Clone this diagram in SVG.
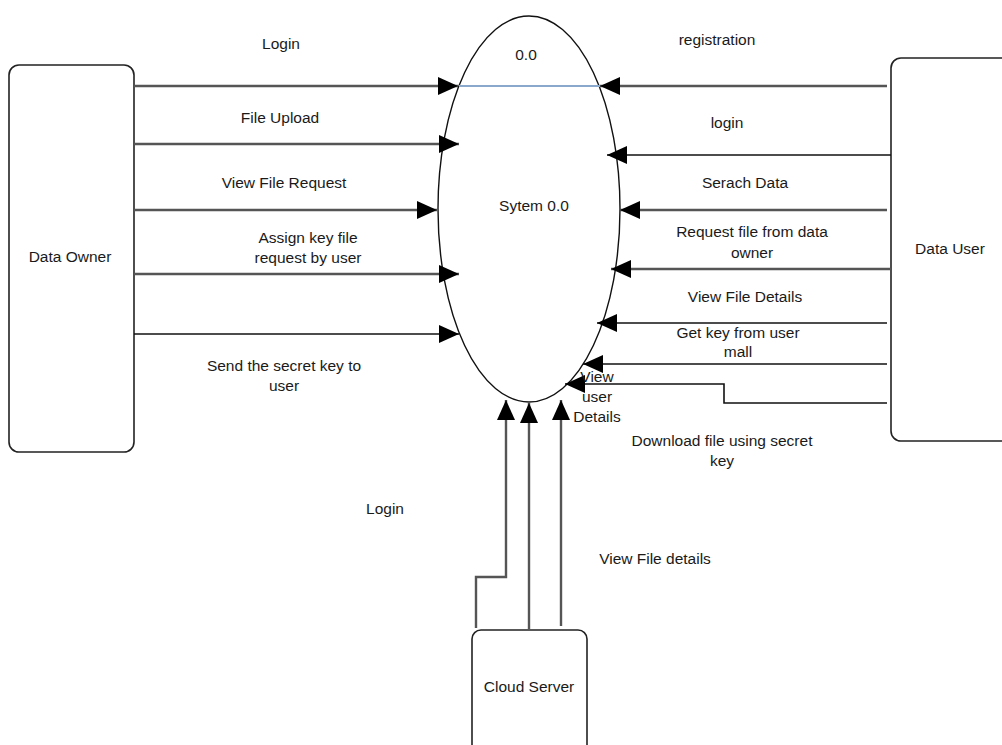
<svg xmlns="http://www.w3.org/2000/svg" width="1002" height="745" viewBox="0 0 1002 745">
<style>
text{font-family:"Liberation Sans",Arial,sans-serif;font-size:15.5px;fill:#1a1a1a;text-anchor:middle}
.box{fill:#fff;stroke:#222;stroke-width:1.6}
.g{fill:none;stroke:#555;stroke-width:2.4;marker-end:url(#ah)}
.k{fill:none;stroke:#111;stroke-width:1.6;marker-end:url(#ah)}
</style>
<defs>
<marker id="ah" markerUnits="userSpaceOnUse" markerWidth="20" markerHeight="18" refX="20" refY="9" orient="auto">
<path d="M0,0 L20,9 L0,18 z" fill="#000"/>
</marker>
</defs>
<rect width="1002" height="745" fill="#fff"/>
<g id="system">
<ellipse cx="529" cy="209" rx="91" ry="193" fill="#fff" stroke="#111" stroke-width="1.4"/>
<line x1="459" y1="86" x2="600" y2="86" stroke="#8aa8cc" stroke-width="2"/>
<text x="526" y="60">0.0</text>
<text x="534" y="211">Sytem 0.0</text>
</g>
<g id="data-owner">
<rect class="box" x="9" y="65" width="125" height="387" rx="10"/>
<text x="70" y="262">Data Owner</text>
</g>
<g id="data-user">
<rect class="box" x="891" y="58" width="130" height="383" rx="10"/>
<text x="950" y="254">Data User</text>
</g>
<g id="cloud-server">
<rect class="box" x="472" y="630" width="115" height="130" rx="9"/>
<text x="529" y="692">Cloud Server</text>
</g>
<g id="connectors">
<line class="g" x1="134" y1="86" x2="458" y2="86"/>
<line class="g" x1="134" y1="144" x2="459" y2="144"/>
<line class="g" x1="134" y1="210" x2="437" y2="210"/>
<line class="g" x1="134" y1="274" x2="459" y2="274"/>
<line class="k" x1="134" y1="334" x2="459" y2="334"/>
<line class="g" x1="887" y1="86" x2="600" y2="86"/>
<line class="k" x1="891" y1="155" x2="607" y2="155"/>
<line class="g" x1="887" y1="210" x2="620" y2="210"/>
<line class="g" x1="891" y1="269" x2="611" y2="269"/>
<line class="k" x1="887" y1="323" x2="597" y2="323"/>
<line class="k" x1="887" y1="364" x2="583" y2="364"/>
<polyline class="k" points="887,403 724,403 724,384 565,384"/>
<polyline class="g" points="476,628 476,577 506,577 506,400"/>
<line class="g" x1="529" y1="629" x2="529" y2="403"/>
<line class="g" x1="561" y1="626" x2="561" y2="400"/>
</g>
<g id="labels">
<text x="281" y="49">Login</text>
<text x="280" y="123">File Upload</text>
<text x="284" y="188">View File Request</text>
<text x="308" y="243">Assign key file</text>
<text x="308" y="263">request by user</text>
<text x="284" y="371">Send the secret key to</text>
<text x="284" y="391">user</text>
<text x="717" y="45">registration</text>
<text x="727" y="128">login</text>
<text x="745" y="188">Serach Data</text>
<text x="752" y="237">Request file from data</text>
<text x="752" y="258">owner</text>
<text x="745" y="302">View File Details</text>
<text x="738" y="338">Get key from user</text>
<text x="738" y="357">mall</text>
<text x="597" y="382">View</text>
<text x="597" y="402">user</text>
<text x="597" y="422">Details</text>
<text x="722" y="446">Download file using secret</text>
<text x="722" y="466">key</text>
<text x="385" y="514">Login</text>
<text x="655" y="564">View File details</text>
</g>
</svg>
